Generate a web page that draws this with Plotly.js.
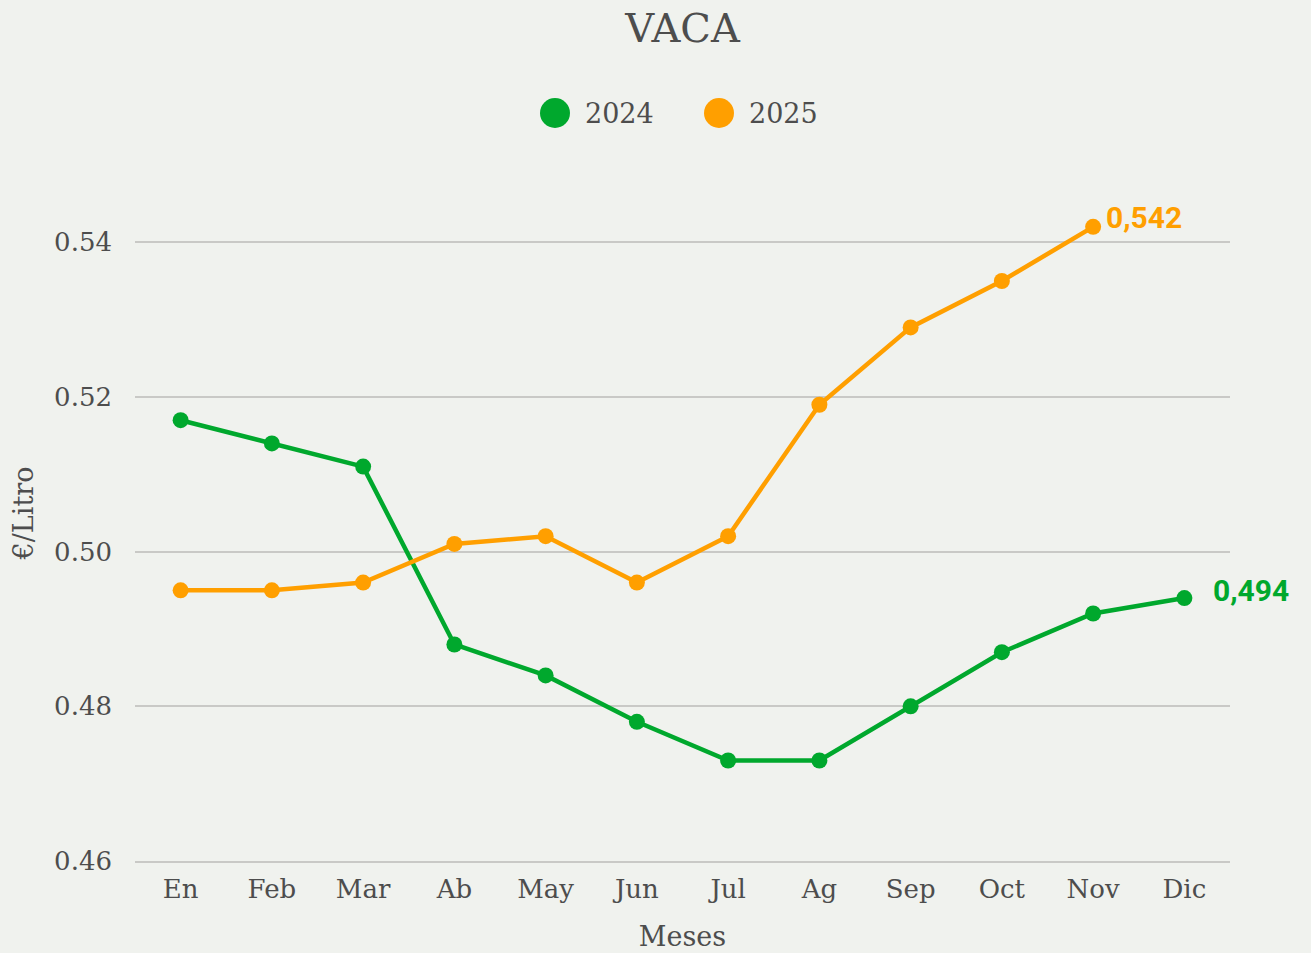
<!DOCTYPE html>
<html>
<head>
<meta charset="utf-8">
<script src="https://cdn.plot.ly/plotly-3.0.1.min.js"></script>
<style>
html,body{margin:0;padding:0;background:#f0f2ee;}
#chart{width:1311px;height:953px;}
</style>
</head>
<body>
<div id="chart"></div>
<script>
const months = ["En","Feb","Mar","Ab","May","Jun","Jul","Ag","Sep","Oct","Nov","Dic"];
const values2024 = [0.517,0.514,0.511,0.488,0.484,0.478,0.473,0.473,0.480,0.487,0.492,0.494];
const values2025 = [0.495,0.495,0.496,0.501,0.502,0.496,0.502,0.519,0.529,0.535,0.542,null];
const seriesNames = ["2024","2025"];
const tickVals = [0.46,0.48,0.50,0.52,0.54];

const GREEN = "#00a82d";
const ORANGE = "#ff9f00";
const TEXT = "#4d4d4d";
const GRID = "#c9c9c6";
const FONT = "'Roboto Slab', 'DejaVu Serif', serif";

function lastIndex(arr){ for(let i=arr.length-1;i>=0;i--){ if(arr[i]!==null) return i; } return -1; }
function fmt(v){ return v.toFixed(3).replace('.', ','); }

const colors = [GREEN, ORANGE];
const seriesValues = [values2024, values2025];

const traces = seriesValues.map((vals, k) => ({
  x: months, y: vals, name: seriesNames[k], type: "scatter", mode: "lines+markers",
  line: {color: colors[k], width: 4.5}, marker: {color: colors[k], size: 16}
}));

const i24 = lastIndex(values2024), i25 = lastIndex(values2025);
const annotations = [
  {x: months[i25], y: values2025[i25], xref: "x", yref: "y", text: fmt(values2025[i25]),
   showarrow: false, xanchor: "left", xshift: 11, yshift: 9,
   font: {family: "Roboto, sans-serif", size: 30, color: ORANGE, weight: "bold"}},
  {x: months[i24], y: values2024[i24], xref: "x", yref: "y", text: fmt(values2024[i24]),
   showarrow: false, xanchor: "left", xshift: 27, yshift: 8,
   font: {family: "Roboto, sans-serif", size: 30, color: GREEN, weight: "bold"}}
];

// custom legend (large dots), positioned in paper coordinates above the plot
const plotL = 135, plotW = 1311 - 135 - 81, plotB = 953 - 92, plotH = 953 - 165 - 92;
const legendY = (plotB - 113) / plotH;
const legendDotX = [555, 719];
const shapes = [];
seriesNames.forEach((nm, k) => {
  const px = (legendDotX[k] - plotL) / plotW;
  shapes.push({type: "circle", xref: "paper", yref: "paper", xsizemode: "pixel", ysizemode: "pixel",
    xanchor: px, yanchor: legendY, x0: -15, x1: 15, y0: -15, y1: 15,
    fillcolor: colors[k], line: {width: 0}});
  annotations.push({xref: "paper", yref: "paper", x: px, y: legendY, xshift: 28, text: nm,
    showarrow: false, xanchor: "left", yanchor: "middle",
    font: {family: FONT, size: 27, color: TEXT}});
});

const layout = {
  width: 1311, height: 953,
  paper_bgcolor: "#f0f2ee", plot_bgcolor: "#f0f2ee",
  font: {family: FONT, color: TEXT, size: 26},
  title: {text: "VACA", x: 0.5, xref: "paper", xanchor: "center", y: 1 - 28/953, yref: "container", yanchor: "middle",
          font: {family: FONT, size: 40, color: TEXT}},
  margin: {l: 135, r: 81, t: 165, b: 92},
  showlegend: false,
  xaxis: {type: "category", range: [-0.5, 11.5], showgrid: false, zeroline: false, ticks: "",
          showline: true, linecolor: GRID, linewidth: 1.5, ticklabelstandoff: 4,
          tickfont: {family: FONT, size: 26, color: TEXT},
          title: {text: "Meses", font: {family: FONT, size: 27, color: TEXT}, standoff: 24}},
  yaxis: {range: [0.46, 0.55], tickvals: tickVals, ticktext: tickVals.map(v => v.toFixed(2)),
          showgrid: true, gridcolor: GRID, gridwidth: 1.5, zeroline: false, showline: false,
          ticks: "", ticklabelstandoff: 22,
          tickfont: {family: FONT, size: 26, color: TEXT},
          title: {text: "€/Litro", font: {family: FONT, size: 27, color: TEXT}, standoff: 12}},
  shapes: shapes,
  annotations: annotations
};

Plotly.newPlot("chart", traces, layout, {displayModeBar: false, responsive: false});
</script>
</body>
</html>
